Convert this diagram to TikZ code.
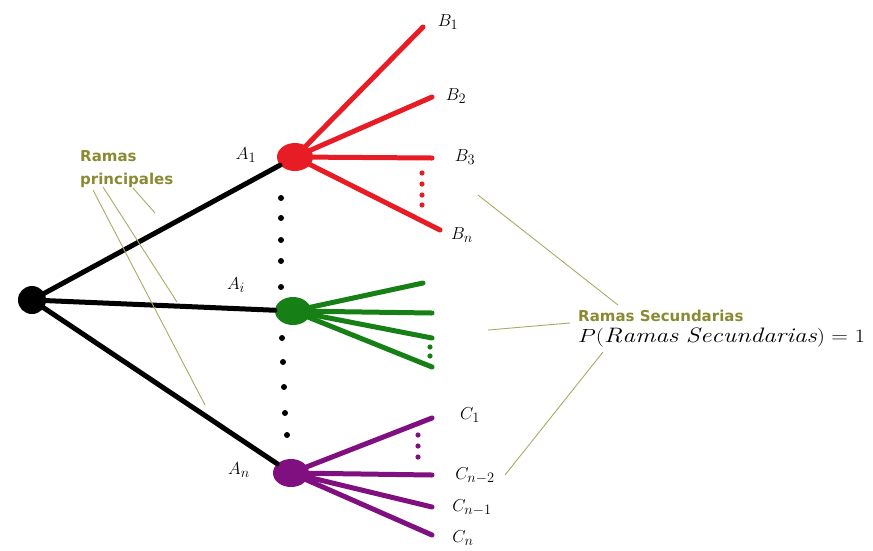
\documentclass[tikz,border=0pt]{standalone}
\usepackage{fontspec}
\newfontfamily\notefont{DejaVu Sans}
\usetikzlibrary{shapes.geometric}
\definecolor{notecol}{RGB}{138,138,50}
\definecolor{guidecol}{RGB}{170,170,100}
\definecolor{redbr}{RGB}{232,28,36}
\definecolor{greenbr}{RGB}{22,128,22}
\definecolor{purplebr}{RGB}{128,16,128}
\tikzset{
  knot/.style={ellipse, fill, minimum width=36pt, minimum height=28pt, inner sep=0pt},
  branch/.style={line width=5pt, line cap=round},
  guide/.style={guidecol, line width=0.9pt},
  lab/.style={font=\fontsize{19}{21}\selectfont, inner sep=0pt},
  note/.style={notecol, font=\notefont\bfseries\fontsize{15}{23}\selectfont, inner sep=0pt, align=left}
}
\begin{document}
\begin{tikzpicture}[x=1pt,y=-1pt]
  \useasboundingbox (0,0) rectangle (873,550);
  % main nodes
  \node[circle, fill, minimum size=28pt, inner sep=0pt] (o) at (32,300) {};
  \node[knot, redbr] (a1) at (295,157) {};
  \node[knot, greenbr] (ai) at (293,311) {};
  \node[knot, purplebr] (an) at (291,473) {};

  % main branches
  \draw[branch] (o.center) -- (a1);
  \draw[branch] (o.center) -- (ai);
  \draw[branch] (o.center) -- (an);

  % dots between A1, Ai and An
  \foreach \y in {198,218,240,261,287} \fill (281,\y) circle (3pt);
  \foreach \y/\x in {338/282,362/283,387/284,413/285,435/287} \fill (\x,\y) circle (3pt);

  % secondary branches of A1
  \coordinate (b1) at (423,27); \coordinate (b2) at (432,97);
  \coordinate (b3) at (432,158); \coordinate (bn) at (440,230);
  \foreach \e in {b1,b2,b3,bn} \draw[branch, redbr] (a1.center) -- (\e);
  \foreach \y in {173,184,195,205} \fill[redbr] (422,\y) circle (2.6pt);

  % secondary branches of Ai
  \coordinate (g1) at (423,283); \coordinate (g2) at (432,313);
  \coordinate (g3) at (432,338); \coordinate (g4) at (432,367);
  \foreach \e in {g1,g2,g3,g4} \draw[branch, greenbr] (ai.center) -- (\e);
  \foreach \y in {347,356} \fill[greenbr] (430,\y) circle (2.6pt);

  % secondary branches of An
  \coordinate (c1) at (432,418); \coordinate (c2) at (432,475);
  \coordinate (c3) at (432,507); \coordinate (c4) at (432,535);
  \foreach \e in {c1,c2,c3,c4} \draw[branch, purplebr] (an.center) -- (\e);
  \foreach \y in {435,446,457} \fill[purplebr] (418,\y) circle (2.6pt);

  % labels
  \node[lab] (la1) at (246,155) {$A_1$};
  \node[lab] (lai) at (236,285) {$A_i$};
  \node[lab] (lan) at (239,470) {$A_n$};
  \node[lab] (lb1) at (448,22) {$B_1$};
  \node[lab] (lb2) at (456,96) {$B_2$};
  \node[lab] (lb3) at (465,157) {$B_3$};
  \node[lab] (lbn) at (462,235) {$B_n$};
  \node[lab] (lc1) at (470,415) {$C_1$};
  \node[lab] (lc2) at (475,476) {$C_{n-2}$};
  \node[lab] (lc3) at (472,508) {$C_{n-1}$};
  \node[lab] (lc4) at (463,538) {$C_n$};

  % notes and their guide lines
  \node[note, anchor=north west] (np) at (80,150) {Ramas\\principales};
  \coordinate (p1) at (93,190); \coordinate (p1e) at (205,405);
  \coordinate (p2) at (103,187); \coordinate (p2e) at (177,302);
  \coordinate (p3) at (133,188); \coordinate (p3e) at (155,213);
  \draw[guide] (p1) -- (p1e); \draw[guide] (p2) -- (p2e); \draw[guide] (p3) -- (p3e);

  \node[note, anchor=west] (ns) at (578,316) {Ramas Secundarias};
  \node[lab, anchor=west] (np1) at (578,338)
    {\scalebox{1.34}[1.1]{$P(\mathit{Ramas\ Secundarias}) = 1$}};
  \coordinate (s1) at (478,195); \coordinate (s1e) at (618,305);
  \coordinate (s2) at (488,330); \coordinate (s2e) at (570,323);
  \coordinate (s3) at (603,352); \coordinate (s3e) at (505,475);
  \draw[guide] (s1) -- (s1e); \draw[guide] (s2) -- (s2e); \draw[guide] (s3) -- (s3e);
\end{tikzpicture}
\end{document}
